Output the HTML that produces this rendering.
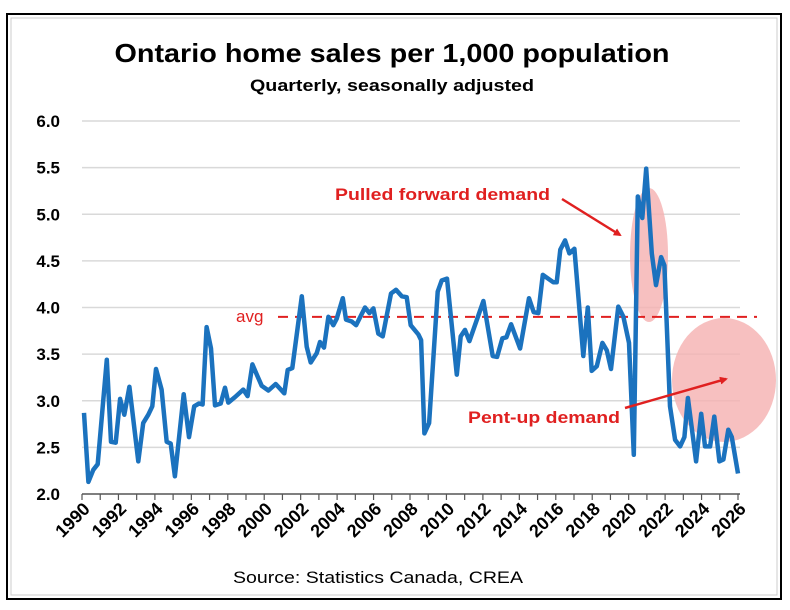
<!DOCTYPE html>
<html><head><meta charset="utf-8"><style>
html,body{margin:0;padding:0;background:#fff;}
svg{display:block;font-family:"Liberation Sans",sans-serif;}
</style></head><body>
<svg id="chart" width="790" height="610" viewBox="0 0 790 610">
<rect x="7" y="14" width="774" height="585" fill="#fff" stroke="#000" stroke-width="2"/>
<rect x="11" y="18" width="766" height="577" fill="none" stroke="#ccc" stroke-width="1"/>
<text x="392" y="62" text-anchor="middle" font-size="26" font-weight="bold" textLength="555" lengthAdjust="spacingAndGlyphs">Ontario home sales per 1,000 population</text>
<text x="392" y="91" text-anchor="middle" font-size="17" font-weight="bold" textLength="284" lengthAdjust="spacingAndGlyphs">Quarterly, seasonally adjusted</text>
<g id="grid"></g>
<g id="yaxis"></g>
<g id="xaxis"></g>
<ellipse cx="649" cy="255" rx="19" ry="67" fill="#f5b0b0" opacity="0.8"/>
<ellipse cx="724" cy="380" rx="52" ry="62" fill="#f5b0b0" opacity="0.8"/>
<line id="avgline" x1="278" x2="757" stroke="#e02020" stroke-width="2" stroke-dasharray="10,7"/>
<text x="236" y="322" font-size="17" fill="#e02020">avg</text>
<path id="series" fill="none" stroke="#1b72be" stroke-width="4.5" stroke-linejoin="round"/>
<text x="335" y="200" font-size="17" font-weight="bold" fill="#e02020" textLength="215" lengthAdjust="spacingAndGlyphs">Pulled forward demand</text>
<text x="468" y="423" font-size="17" font-weight="bold" fill="#e02020" textLength="152" lengthAdjust="spacingAndGlyphs">Pent-up demand</text>
<defs><marker id="ah" markerWidth="8" markerHeight="8" refX="6" refY="4" orient="auto" markerUnits="userSpaceOnUse"><path d="M0,0 L8,4 L0,8 z" fill="#e02020"/></marker></defs>
<line x1="562" y1="199" x2="620" y2="235" stroke="#e02020" stroke-width="2.5" marker-end="url(#ah)"/>
<line x1="625" y1="408" x2="726" y2="379" stroke="#e02020" stroke-width="2.5" marker-end="url(#ah)"/>
<text x="378" y="583" text-anchor="middle" font-size="17" textLength="290" lengthAdjust="spacingAndGlyphs">Source: Statistics Canada, CREA</text>
</svg>
<script>
const years = [1990.11,1990.35,1990.62,1990.86,1991.36,1991.59,1991.85,1992.09,1992.32,1992.60,1993.09,1993.36,1993.64,1993.86,1994.06,1994.37,1994.65,1994.87,1995.10,1995.58,1995.87,1996.16,1996.42,1996.62,1996.84,1997.08,1997.30,1997.61,1997.85,1998.03,1998.40,1998.85,1999.09,1999.35,1999.59,1999.86,2000.23,2000.63,2001.10,2001.29,2001.54,2002.06,2002.33,2002.55,2002.88,2003.06,2003.28,2003.52,2003.79,2003.98,2004.31,2004.49,2004.80,2005.04,2005.53,2005.77,2005.99,2006.26,2006.50,2006.96,2007.23,2007.55,2007.82,2008.04,2008.46,2008.61,2008.79,2009.05,2009.52,2009.74,2010.03,2010.57,2010.78,2011.02,2011.26,2012.03,2012.54,2012.78,2013.07,2013.29,2013.55,2014.04,2014.53,2014.79,2015.04,2015.29,2015.87,2016.05,2016.25,2016.51,2016.75,2017.02,2017.51,2017.76,2017.97,2018.25,2018.56,2018.80,2019.03,2019.43,2019.71,2020.02,2020.28,2020.50,2020.75,2020.96,2021.27,2021.50,2021.78,2021.96,2022.27,2022.55,2022.82,2023.06,2023.25,2023.70,2023.98,2024.19,2024.47,2024.70,2024.98,2025.20,2025.47,2025.66,2026.00];
const values = [2.87,2.13,2.26,2.32,3.44,2.56,2.55,3.02,2.85,3.15,2.35,2.76,2.85,2.94,3.34,3.12,2.56,2.54,2.19,3.07,2.61,2.94,2.97,2.96,3.79,3.56,2.95,2.97,3.14,2.98,3.04,3.12,3.05,3.39,3.28,3.16,3.11,3.18,3.08,3.33,3.35,4.12,3.58,3.41,3.51,3.63,3.57,3.90,3.81,3.88,4.10,3.87,3.85,3.81,4.00,3.94,3.99,3.72,3.69,4.15,4.19,4.12,4.11,3.81,3.71,3.65,2.65,2.76,4.17,4.29,4.31,3.28,3.69,3.76,3.64,4.07,3.48,3.47,3.67,3.68,3.82,3.56,4.10,3.95,3.94,4.35,4.27,4.27,4.62,4.72,4.58,4.63,3.48,4.00,3.32,3.37,3.62,3.54,3.34,4.01,3.90,3.62,2.42,5.19,4.96,5.49,4.58,4.24,4.54,4.45,2.94,2.58,2.51,2.61,3.03,2.35,2.86,2.51,2.51,2.83,2.35,2.37,2.69,2.61,2.22];
const yTicks = [2.0,2.5,3.0,3.5,4.0,4.5,5.0,5.5,6.0];
const xTickYears = [1990,1992,1994,1996,1998,2000,2002,2004,2006,2008,2010,2012,2014,2016,2018,2020,2022,2024,2026];
const avgValue = 3.9;

const NS = "http://www.w3.org/2000/svg";
const X0 = 82, X1 = 738, Y0 = 494, Y1 = 121;
function xs(y){ return X0 + (y - 1990) / 36 * (X1 - X0); }
function ys(v){ return Y0 - (v - 2) / 4 * (Y0 - Y1); }
function mk(tag, attrs, parent){ const e = document.createElementNS(NS, tag); for (const k in attrs) e.setAttribute(k, attrs[k]); parent.appendChild(e); return e; }

const grid = document.getElementById('grid');
const yax = document.getElementById('yaxis');
yTicks.forEach(v => {
  if (v > 2) {
    const gl = mk('line', {x1: X0, x2: 740, y1: ys(v), y2: ys(v), stroke: '#d9d9d9', 'stroke-width': 1.5}, grid);
    
    
  }
  const t = mk('text', {x: 60, y: ys(v) + 6, 'text-anchor': 'end', 'font-size': 17, 'font-weight': 'bold'}, yax);
  t.textContent = v.toFixed(1);
  
  
});
const xax = document.getElementById('xaxis');
const axl = mk('line', {x1: X0, x2: 740, y1: Y0, y2: Y0, stroke: '#555', 'stroke-width': 1.5}, xax);


for (let yr = 1990; yr <= 2026; yr++) {
  const tk = mk('line', {x1: xs(yr), x2: xs(yr), y1: Y0, y2: Y0 + 6, stroke: '#555', 'stroke-width': 1.2}, xax);
  
  
}
xTickYears.forEach(yr => {
  const x = xs(yr) + 9, y = 510;
  const t = mk('text', {x: x, y: y, 'text-anchor': 'end', 'font-size': 18, 'font-weight': 'bold', transform: `rotate(-45 ${x} ${y})`}, xax);
  t.textContent = yr;
  
  
});
const al = document.getElementById('avgline');
al.setAttribute('y1', ys(avgValue)); al.setAttribute('y2', ys(avgValue));
document.getElementById('series').setAttribute('d', years.map((y, i) => (i ? 'L' : 'M') + xs(y).toFixed(1) + ',' + ys(values[i]).toFixed(1)).join(' '));
</script>
</body></html>
